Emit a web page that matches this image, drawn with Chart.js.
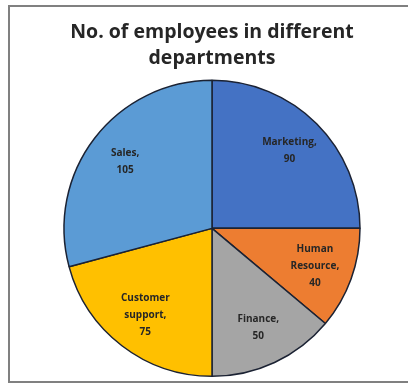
<!DOCTYPE html>
<html>
<head>
<meta charset="utf-8">
<script src="https://cdn.jsdelivr.net/npm/chart.js@4"></script>
<style>
  html, body { margin: 0; padding: 0; background: #fff; overflow: hidden; width: 408px; height: 384px; }
  canvas { display: block; }
</style>
</head>
<body>
<canvas id="chart" width="408" height="384"></canvas>
<script>
const departments = ["Marketing", "Human Resource", "Finance", "Customer support", "Sales"];
const employees = [90, 40, 50, 75, 105];
const sliceColors = ["#4472C4", "#ED7D31", "#A5A5A5", "#FFC000", "#5B9BD5"];
const titleLines = ["No. of employees in different", "departments"];

// chart frame: left, top and bottom edges only (right side runs off the picture)
const chartFrame = {
  id: "chartFrame",
  beforeDraw(chart) {
    const ctx = chart.ctx;
    ctx.save();
    ctx.strokeStyle = "#808080";
    ctx.lineWidth = 2;
    ctx.beginPath();
    ctx.moveTo(420, 6);
    ctx.lineTo(9, 6);
    ctx.lineTo(9, 382);
    ctx.lineTo(420, 382);
    ctx.stroke();
    ctx.restore();
  }
};

// draws "Name,\nvalue" inside each slice, like excel data labels
const sliceLabels = {
  id: "sliceLabels",
  afterDatasetsDraw(chart) {
    const ctx = chart.ctx;
    const meta = chart.getDatasetMeta(0);
    ctx.save();
    ctx.font = "bold 10px 'Open Sans'";
    ctx.fillStyle = "#262626";
    ctx.textAlign = "center";
    ctx.textBaseline = "middle";
    meta.data.forEach((arc, i) => {
      const p = arc.getProps(["x", "y", "startAngle", "endAngle", "outerRadius"], true);
      const mid = (p.startAngle + p.endAngle) / 2;
      const r = p.outerRadius * 0.74;
      const cx = p.x + Math.cos(mid) * r;
      const cy = p.y + Math.sin(mid) * r;
      const words = departments[i].split(" ");
      words[words.length - 1] += ",";
      const lines = words.concat([String(employees[i])]);
      const lh = 17;
      lines.forEach((line, j) => {
        ctx.fillText(line, cx, cy + (j - (lines.length - 1) / 2) * lh);
      });
    });
    ctx.restore();
  }
};

new Chart(document.getElementById("chart"), {
  type: "pie",
  data: {
    labels: departments,
    datasets: [{
      data: employees,
      backgroundColor: sliceColors,
      borderColor: "#1b2233",
      borderWidth: 1.5
    }]
  },
  options: {
    responsive: false,
    animation: false,
    radius: 148,
    layout: { padding: { left: 16, right: 0, top: 0, bottom: 8 } },
    plugins: {
      legend: { display: false },
      tooltip: { enabled: false },
      title: {
        display: true,
        text: titleLines,
        color: "#262626",
        font: { family: "'Open Sans'", size: 19.5, weight: "bold", lineHeight: 1.3 },
        padding: { top: 20, bottom: 10 }
      }
    }
  },
  plugins: [chartFrame, sliceLabels]
});
</script>
</body>
</html>
